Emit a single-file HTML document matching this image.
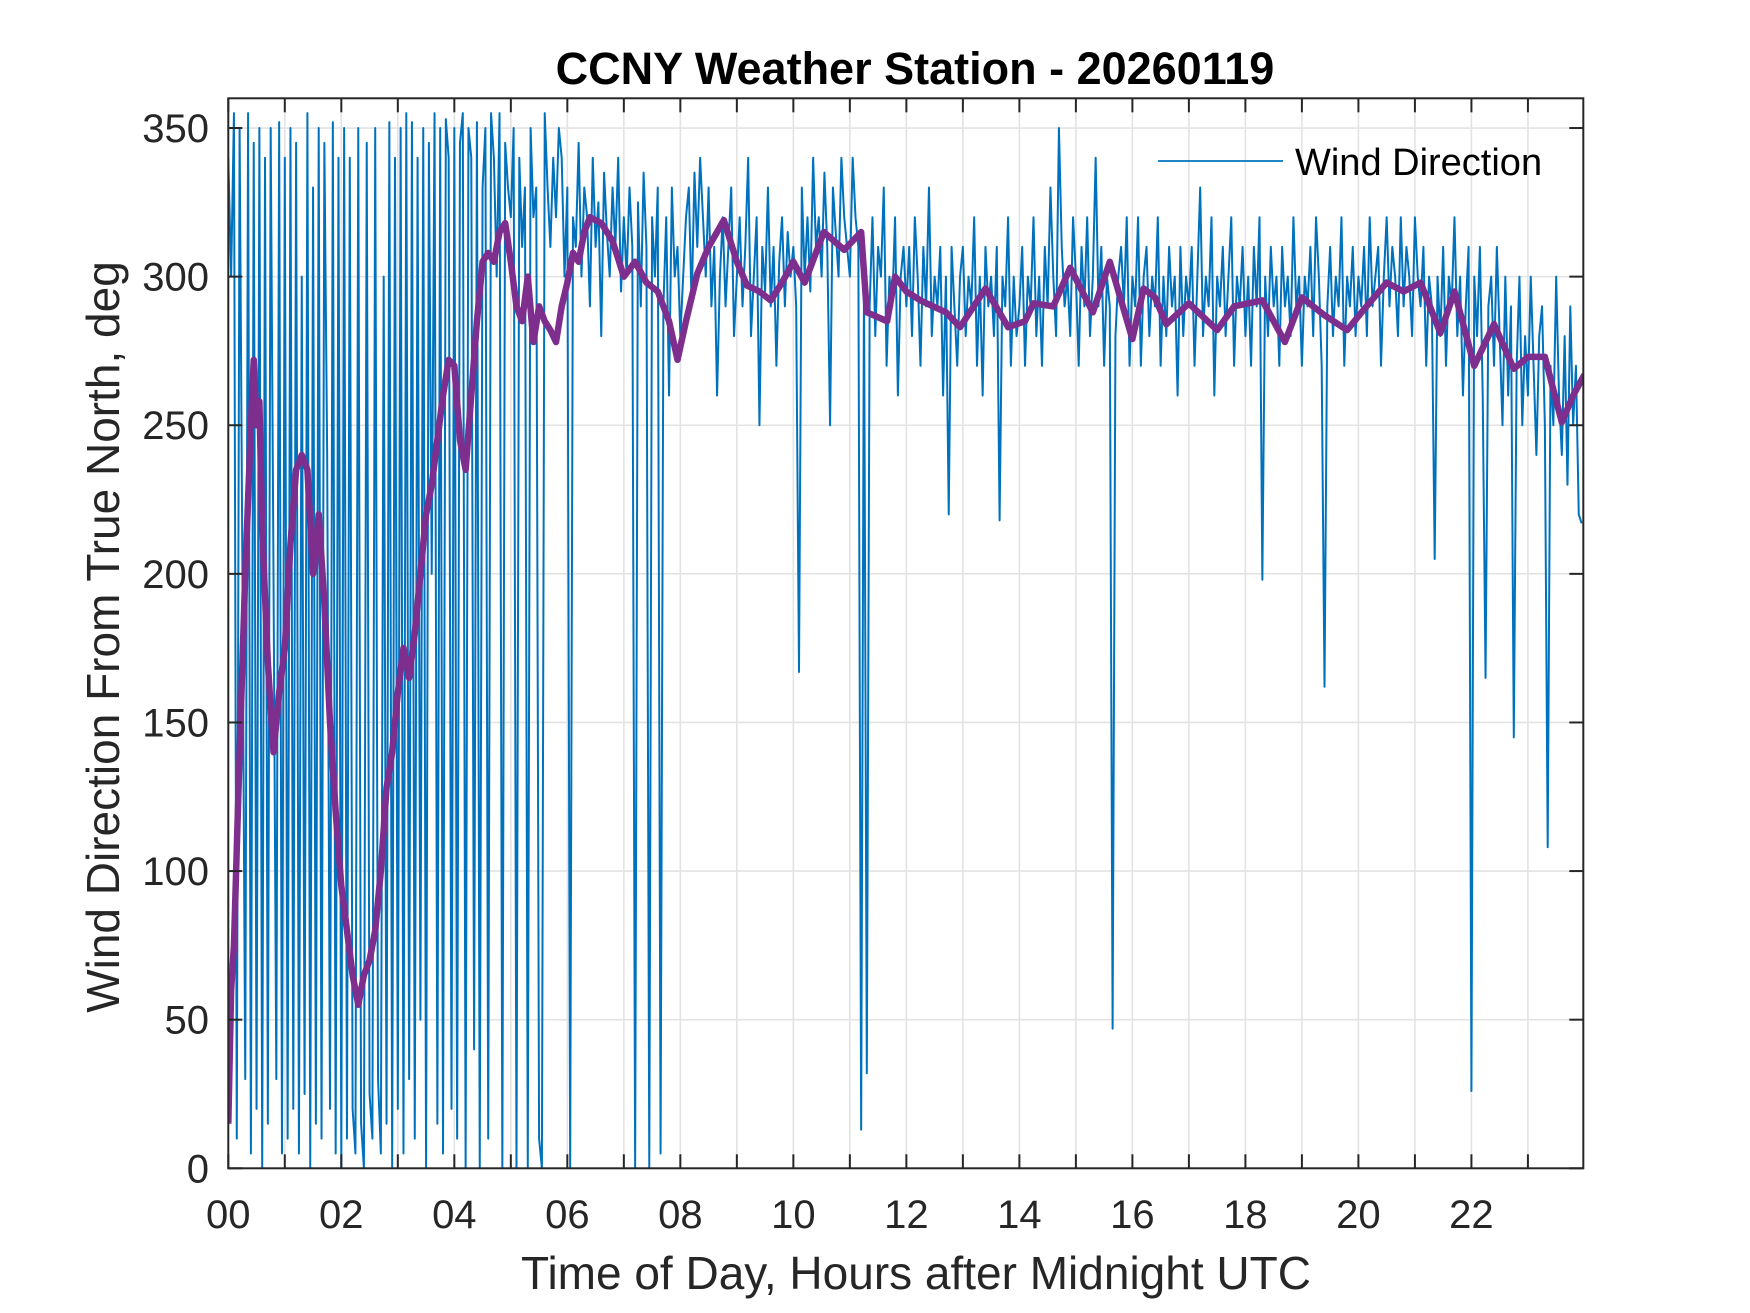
<!DOCTYPE html>
<html><head><meta charset="utf-8"><style>
html,body{margin:0;padding:0;background:#fff}
svg{display:block}
text{font-family:"Liberation Sans",Arial,sans-serif;fill:#262626}
</style></head><body>
<svg id="chart" width="1750" height="1313" viewBox="0 0 1750 1313" xmlns="http://www.w3.org/2000/svg">
<rect width="1750" height="1313" fill="#fff"/>
<defs><clipPath id="clip"><rect x="228.3" y="98.3" width="1355" height="1070"/></clipPath></defs>
<g id="grid"></g>
<g id="series" clip-path="url(#clip)"></g>
<g id="axes"></g>
<text x="915" y="84" text-anchor="middle" font-size="45" font-weight="bold" style="fill:#000">CCNY Weather Station - 20260119</text>
<text x="916" y="1289" text-anchor="middle" font-size="46">Time of Day, Hours after Midnight UTC</text>
<text transform="translate(119,637) rotate(-90)" text-anchor="middle" font-size="46">Wind Direction From True North, deg</text>
<g>
<line x1="1158" y1="161" x2="1283" y2="161" stroke="#0072BD" stroke-width="1.8"/>
<text x="1295" y="175" font-size="38" style="fill:#000">Wind Direction</text>
</g>
</svg>
<script>
const xTickLabels = ["00","02","04","06","08","10","12","14","16","18","20","22"];
const yTickValues = [0,50,100,150,200,250,300,350];
const windStepHours = 0.05;
const windValues = [
340,300,355,10,350,200,30,355,5,345,20,350,0,340,15,350,200,30,352,5,
340,10,350,20,345,5,300,25,355,0,330,15,350,10,345,240,20,352,5,340,
0,350,10,340,20,5,350,15,0,345,25,10,350,30,5,300,15,352,0,340,
20,350,5,355,30,352,10,340,50,350,0,345,200,355,15,350,5,353,340,20,
350,10,345,355,0,350,340,40,352,0,330,350,10,355,340,300,355,0,345,330,
320,350,0,340,310,330,0,350,320,330,10,0,355,330,310,340,320,350,340,300,
330,0,320,310,345,300,330,320,290,340,310,325,280,335,315,300,330,310,340,295,
320,300,330,310,0,325,290,335,310,0,320,300,330,5,290,320,260,330,300,310,
280,300,320,330,290,335,310,340,320,300,330,290,310,260,300,320,290,310,330,280,
300,320,290,310,340,280,300,320,250,310,295,330,290,310,270,305,320,290,315,300,
310,290,167,330,300,320,295,340,310,320,300,335,310,250,330,315,300,340,320,310,
300,340,320,310,13,300,32,290,320,280,310,300,330,270,300,290,320,260,300,310,
290,310,280,320,300,270,310,290,330,280,300,290,310,260,300,220,310,290,270,300,
310,280,300,290,320,270,300,260,310,290,300,280,310,218,300,290,320,270,300,280,
290,310,270,300,290,320,280,300,270,310,290,330,300,280,350,310,290,300,280,320,
300,270,310,290,320,280,300,340,290,310,270,300,290,47,280,300,310,290,320,270,
300,290,320,270,300,310,280,300,290,320,270,300,280,310,290,300,260,310,280,300,
290,310,270,300,330,280,300,290,320,260,300,290,310,280,300,320,270,300,290,310,
280,300,270,310,290,320,198,300,280,310,290,300,270,310,290,300,280,320,290,300,
270,300,290,310,280,320,300,270,162,290,310,280,300,290,320,270,300,290,310,280,
300,290,310,280,320,290,300,310,270,300,320,290,310,300,280,320,290,310,300,280,
320,300,290,310,270,300,290,205,300,280,310,270,300,290,320,280,300,260,290,310,
26,300,280,310,260,165,290,300,270,310,280,250,300,260,290,145,270,300,250,280,
260,300,270,240,280,290,250,108,270,250,300,260,240,280,230,290,250,270,220,217
];
const avgHours = [0,0.05,0.1,0.2,0.3,0.4,0.45,0.5,0.55,0.6,0.7,0.8,0.9,1.0,1.1,1.2,1.3,1.4,1.5,1.6,1.7,1.8,1.9,2.0,2.1,2.2,2.3,2.4,2.5,2.6,2.7,2.8,2.9,3.0,3.1,3.2,3.3,3.4,3.5,3.6,3.7,3.8,3.9,4.0,4.1,4.2,4.3,4.4,4.5,4.6,4.7,4.8,4.9,5.0,5.1,5.2,5.3,5.4,5.5,5.6,5.7,5.8,5.9,6.0,6.1,6.2,6.3,6.4,6.6,6.8,7.0,7.2,7.4,7.6,7.8,7.95,8.1,8.3,8.5,8.77,9.0,9.18,9.4,9.6,9.8,10.0,10.2,10.54,10.9,11.2,11.3,11.66,11.8,12.0,12.25,12.7,12.95,13.4,13.8,14.1,14.25,14.6,14.9,15.3,15.6,16.0,16.2,16.4,16.6,17.0,17.5,17.8,18.3,18.7,19.0,19.4,19.8,20.1,20.5,20.8,21.1,21.45,21.7,22.05,22.4,22.75,23.0,23.3,23.6,23.8,24];
const avgValues = [15,60,75,140,200,250,272,250,258,215,170,140,160,175,210,235,240,235,200,220,190,150,120,95,80,65,55,65,70,80,100,128,140,160,175,165,180,200,220,230,245,260,272,270,245,235,260,285,305,308,305,315,318,305,290,285,300,278,290,285,282,278,290,298,308,305,315,320,318,312,300,305,298,295,285,272,285,301,310,319,305,297,295,292,298,305,298,315,309,315,288,285,300,295,292,288,283,296,283,285,291,290,303,288,305,279,296,293,284,291,282,290,292,278,293,287,282,289,298,295,298,281,295,270,284,269,273,273,251,260,267];

const X0=228.3, X1=1583.3, Y0=1168.3, Y1=98.3, XMAX=23.98, YMAX=360;
const sx = h => X0 + (h/XMAX)*(X1-X0);
const sy = v => Y0 - (v/YMAX)*(Y0-Y1);
const NS="http://www.w3.org/2000/svg";
function mk(tag, attrs, parent){const e=document.createElementNS(NS,tag);for(const k in attrs)e.setAttribute(k,attrs[k]);parent.appendChild(e);return e;}
const grid=document.getElementById('grid'), series=document.getElementById('series'), axes=document.getElementById('axes');

for(let h=1;h<24;h++){
  const gl=mk('line',{x1:sx(h),x2:sx(h),y1:Y1,y2:Y0,stroke:'#e3e3e3','stroke-width':1.6},grid);
  
  
}
yTickValues.forEach(v=>{
  if(v===0) return;
  const gl=mk('line',{x1:X0,x2:X1,y1:sy(v),y2:sy(v),stroke:'#e3e3e3','stroke-width':1.6},grid);
  
  
});

let d='';
windValues.forEach((v,i)=>{d+=(i?'L':'M')+sx(i*windStepHours).toFixed(2)+' '+sy(v).toFixed(2);});
const wl=mk('path',{d:d,fill:'none',stroke:'#0072BD','stroke-width':2,'stroke-linejoin':'round'},series);



let d2='';
const n=Math.min(avgHours.length,avgValues.length);
for(let i=0;i<n;i++){d2+=(i?'L':'M')+sx(avgHours[i]).toFixed(2)+' '+sy(avgValues[i]).toFixed(2);}
const al=mk('path',{d:d2,fill:'none',stroke:'#7E2F8E','stroke-width':6.5,'stroke-linejoin':'round'},series);



const box=mk('rect',{x:X0,y:Y1,width:X1-X0,height:Y0-Y1,fill:'none',stroke:'#262626','stroke-width':2},axes);



for(let h=0;h<24;h++){
  const x=sx(h);
  const t1=mk('line',{x1:x,x2:x,y1:Y0,y2:Y0-14,stroke:'#262626','stroke-width':2},axes);
  
  
  const t2=mk('line',{x1:x,x2:x,y1:Y1,y2:Y1+14,stroke:'#262626','stroke-width':2},axes);
  
  
}
xTickLabels.forEach((lab,i)=>{
  const t=mk('text',{x:sx(i*2),y:1228,'text-anchor':'middle','font-size':40},axes);
  t.textContent=lab;
  
  
});
yTickValues.forEach(v=>{
  const y=sy(v);
  const t1=mk('line',{x1:X0,x2:X0+14,y1:y,y2:y,stroke:'#262626','stroke-width':2},axes);
  
  
  const t2=mk('line',{x1:X1,x2:X1-14,y1:y,y2:y,stroke:'#262626','stroke-width':2},axes);
  
  
  const t=mk('text',{x:209,y:y+14,'text-anchor':'end','font-size':40},axes);
  t.textContent=String(v);
  
  
});
</script>
</body></html>
